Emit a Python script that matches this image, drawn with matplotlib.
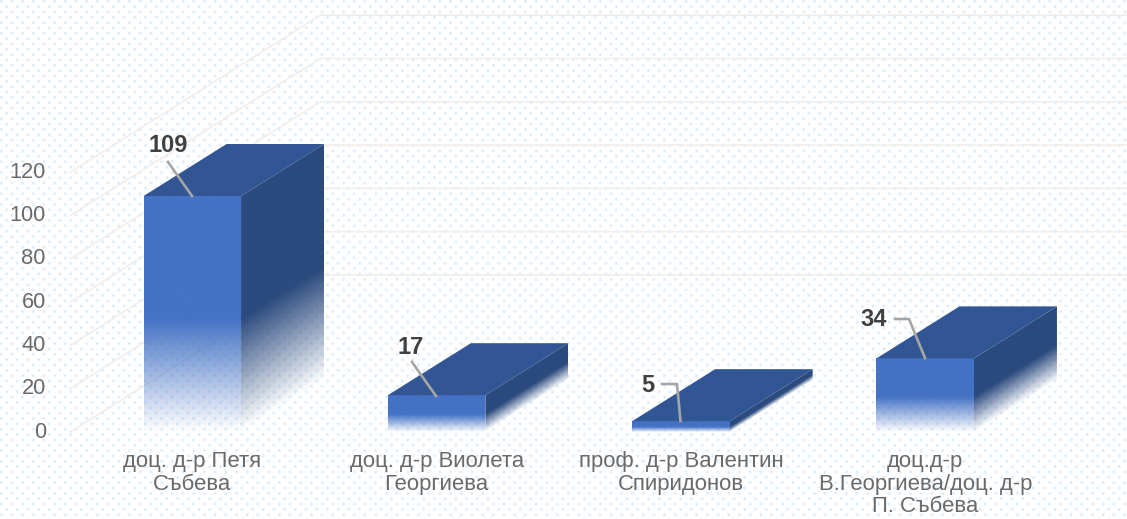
import numpy as np
import matplotlib
matplotlib.use("Agg")
import matplotlib.pyplot as plt
from matplotlib.patches import Polygon

categories = ["доц. д-р Петя\nСъбева", "доц. д-р Виолета\nГеоргиева",
              "проф. д-р Валентин\nСпиридонов", "доц.д-р\nВ.Георгиева/доц. д-р\nП. Събева"]
values = [109, 17, 5, 34]
ticks = [0, 20, 40, 60, 80, 100, 120]

W, H = 1127, 519
PX_X = 244.3   # px per category
PX_Y = 2.165   # px per value unit
X0 = 192.3     # px of first category centre
Y0 = 432       # px of the zero line

BAR_W = 97.5 / PX_X
DX = 83 / PX_X
DY = 52 / PX_Y

FRONT = (0x44 / 255, 0x72 / 255, 0xC4 / 255)
TOP = "#325694"
SIDE = (0x2B / 255, 0x4A / 255, 0x7E / 255)

plt.rcParams["font.family"] = ["Liberation Sans", "DejaVu Sans"]

fig = plt.figure(figsize=(W / 100, H / 100), dpi=100)
ax = fig.add_axes([0, 0, 1, 1])
xlim = (-X0 / PX_X, (W - X0) / PX_X)
ylim = (-(H - Y0) / PX_Y, Y0 / PX_Y)

# dotted page texture
ys, xs = np.mgrid[0:H, 0:W]
bg = np.ones((H, W, 3))
for ox, oy in [(6, 6), (11.35, 11.35)]:
    d = np.hypot((xs - ox + 5.35) % 10.7 - 5.35, (ys - oy + 5.35) % 10.7 - 5.35)
    w = np.clip(2.0 - d, 0, 1)[..., None]
    bg = bg * (1 - w) + np.array([0.88, 0.935, 0.98]) * w
ax.imshow(bg, extent=(*xlim, *ylim), origin="upper", aspect="auto", zorder=0)

# back wall and side wall grid
left = -122 / PX_X
for t in ticks:
    ax.plot([left, left + 250 / PX_X, xlim[1]], [t, t + 157 / PX_Y, t + 157 / PX_Y],
            color="#F0EEEC", lw=1.2, zorder=1)
    ax.text(-146.5 / PX_X, t, str(t), ha="right", va="center", fontsize=15.7, color="#6A6A6A", zorder=5)


def fade_face(poly, color, v, skew, zorder):
    # solid colour on top, fading to transparent over the lower half of the bar
    xa = min(p[0] for p in poly)
    xb = max(p[0] for p in poly)
    ya = min(p[1] for p in poly)
    yb = max(p[1] for p in poly)
    gx, gy = np.meshgrid(np.linspace(xa, xb, 120), np.linspace(ya, yb, 300))
    frac = (gy - skew * (gx - xa)) / v
    rgba = np.zeros(gx.shape + (4,))
    rgba[..., :3] = color
    rgba[..., 3] = np.clip(frac / 0.48, 0, 1)
    im = ax.imshow(rgba, extent=(xa, xb, ya, yb), origin="lower", aspect="auto", zorder=zorder)
    clip = Polygon(poly, transform=ax.transData, facecolor="none", edgecolor="none")
    ax.add_patch(clip)
    im.set_clip_path(clip)


for i, v in enumerate(values):
    l, r = i - BAR_W / 2, i + BAR_W / 2
    fade_face([(l, 0), (r, 0), (r, v), (l, v)], FRONT, v, 0, 3)
    fade_face([(r, 0), (r + DX, DY), (r + DX, v + DY), (r, v)], SIDE, v, DY / DX, 3)
    ax.add_patch(Polygon([(l, v), (r, v), (r + DX, v + DY), (l + DX, v + DY)],
                         facecolor=TOP, edgecolor="none", zorder=3))
    ax.text(i, -8.9, categories[i], ha="center", va="top", fontsize=15.9, color="#6A6A6A",
            linespacing=1.1, zorder=5)

# data labels with leader lines
label_pos = [(168.5, 146), (411, 347), (648, 386), (874, 320)]
leaders = [[(168, 162), (192, 196)],
           [(412, 362), (436, 396)],
           [(662, 384), (677, 384), (680.5, 421)],
           [(895, 319), (909, 319), (925, 358)]]
for i, v in enumerate(values):
    px, py = label_pos[i]
    ax.text((px - X0) / PX_X, (Y0 - py) / PX_Y, str(v), ha="center", va="center",
            fontsize=17, fontweight="bold", color="#404040", zorder=6)
    lx = [(p[0] - X0) / PX_X for p in leaders[i]]
    ly = [(Y0 - p[1]) / PX_Y for p in leaders[i]]
    ax.plot(lx, ly, color="#A5A5A5", lw=1.9, zorder=5)

ax.set_xlim(xlim)
ax.set_ylim(ylim)
ax.axis("off")
fig.savefig("out.png", dpi=100)
